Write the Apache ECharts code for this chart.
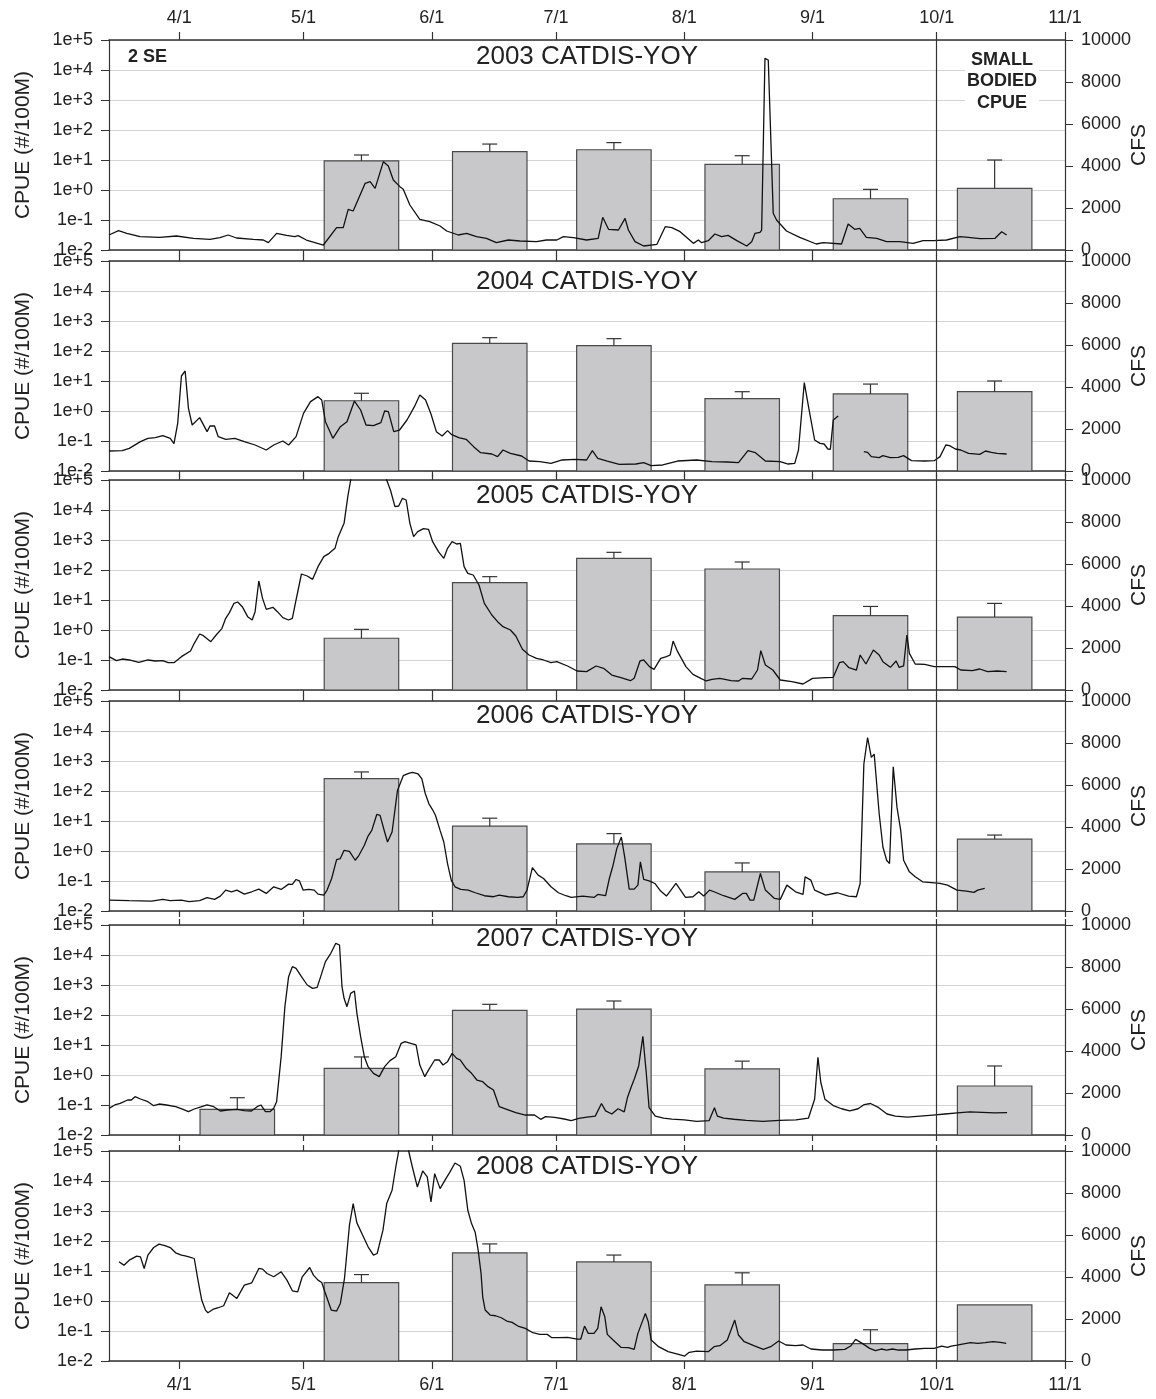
<!DOCTYPE html>
<html>
<head>
<meta charset="utf-8">
<script src="https://cdn.jsdelivr.net/npm/echarts@6/dist/echarts.min.js"></script>
<style>
html, body { margin: 0; padding: 0; background: #fff; }
#chart { width: 1156px; height: 1399px; }
</style>
</head>
<body>
<div id="chart"></div>
<script>
// x is counted in days from 3/15
var monthTicks = [17, 47, 78, 108, 139, 170, 200, 231];
var monthLabels = ['4/1', '5/1', '6/1', '7/1', '8/1', '9/1', '10/1', '11/1'];
var decades = [0.01, 0.1, 1, 10, 100, 1000, 10000, 100000];
var sampleDays = [31, 61, 92, 122, 153, 184, 214]; // mid-month samples
var years = ['2003', '2004', '2005', '2006', '2007', '2008'];

// CPUE means and top of error bar (mean + SE), null = no sample
var cpue2003 = [null, 9.3, 19, 22, 7.2, 0.51, 1.14];
var errTop2003 = [null, 14.7, 34, 38, 13.9, 1.05, 10];
var cpue2004 = [null, 2.2, 180, 151, 2.6, 3.7, 4.4];
var errTop2004 = [null, 3.9, 278, 258, 4.4, 7.9, 10];
var cpue2005 = [null, 0.53, 38, 245, 108, 3.0, 2.7];
var errTop2005 = [null, 1.05, 60, 388, 185, 6.1, 7.7];
var cpue2006 = [null, 260, 6.7, 1.73, 0.2, null, 2.5];
var errTop2006 = [null, 432, 12.4, 3.8, 0.4, null, 3.4];
var cpue2007 = [0.072, 1.67, 143, 158, 1.6, null, 0.43];
var errTop2007 = [0.175, 4.0, 227, 293, 2.9, null, 2.0];
var cpue2008 = [null, 4.1, 40, 20, 3.45, 0.038, 0.74];
var errTop2008 = [null, 7.6, 80, 34, 8.7, 0.11, null];

// river discharge (CFS), [day, cfs]
var flow2003 = [[0,714],[2.3,920],[4.3,794],[7.5,635],[12.3,603],[16.3,667],[20.4,556],[24.4,508],[26.8,587],[28.8,714],[30.8,571],[34.9,508],[37.3,476],[38.5,349],[40.5,794],[42.9,698],[44.9,635],[45.7,683],[47.7,476],[51.8,238],[55,1063],[56.6,1063],[57.8,1937],[59,1857],[61.9,3175],[63.1,3254],[64.3,2937],[66.3,4206],[67.5,4000],[68.7,3333],[70.3,3016],[71.1,2889],[72.7,2143],[75.1,1460],[77.5,1349],[80,1143],[81.6,905],[84.4,714],[86.4,794],[88.8,635],[91.2,556],[93.6,349],[96.5,476],[99.3,429],[103.3,397],[105.7,476],[108.2,476],[109.8,635],[112.2,587],[115.4,476],[118.2,556],[119.3,1556],[120.7,984],[123.1,952],[124.7,1508],[125.5,952],[127.1,397],[129.2,190],[132.4,270],[134.4,1111],[136,1063],[138,873],[141.2,317],[142.4,476],[143.2,349],[144.8,444],[146.4,762],[148,635],[149.6,698],[151.7,444],[154.1,190],[155.3,397],[156.1,794],[157.3,841],[157.7,952],[158.5,9127],[159.3,9048],[160.5,1746],[161.3,1429],[163.7,905],[166.9,603],[170.9,286],[172.6,349],[177,286],[178.6,1238],[180.2,984],[181.4,1032],[183,603],[185.5,556],[187.9,397],[191.1,397],[194.3,317],[196.7,444],[199.2,444],[202.4,476],[205.6,635],[207.6,603],[210.5,540],[214.1,556],[215.7,873],[216.9,714]];
var flow2004 = [[0,952],[3.2,968],[4.9,1079],[7.6,1397],[9.4,1556],[11.2,1587],[13,1683],[14.8,1556],[15.7,1300],[16.6,2270],[17.5,4524],[18.4,4762],[19.2,2984],[20.1,2190],[21.9,2540],[23.7,1873],[24.4,2143],[25.5,2143],[26.4,1635],[28.2,1508],[30.4,1556],[32.7,1397],[35.3,1238],[38,1000],[39.8,1238],[42,1429],[43.4,1238],[45.2,1635],[47,2746],[48.7,3302],[50.5,3540],[51.4,3381],[52.3,2349],[54.1,1556],[55.9,2111],[57.5,2349],[59.3,3333],[60.8,2905],[62.1,2190],[63.9,2159],[65.7,2302],[66.6,2857],[67.5,2825],[68.8,1873],[70.2,1952],[72,2429],[73.8,3063],[75.1,3619],[76.5,3381],[77.8,2714],[79.1,1873],[80.5,1667],[81.8,1921],[82.7,1746],[84.5,1587],[86.3,1508],[88.1,1159],[89.8,873],[92.5,810],[93.9,683],[95.2,1000],[97,841],[99.7,714],[101.5,476],[104.1,444],[106.8,365],[109.5,524],[112.6,556],[115.4,524],[116.8,968],[118.1,603],[120.4,476],[123.3,317],[127.3,333],[129.2,397],[131,254],[133.8,286],[137.4,476],[142,524],[145.7,444],[149.4,429],[152.1,397],[154.4,968],[156.2,873],[158.6,476],[162.2,444],[164.1,333],[165.7,365],[166.6,1000],[168,4206],[169.1,2984],[170.5,1476],[171.8,1317],[172.8,1286],[173.7,1048],[174.3,1032],[175,2429],[176.2,2619],[179,'-'],[182.4,921],[183.3,889],[184.2,683],[186.1,635],[187,730],[188.8,635],[190.7,651],[192,730],[193.9,492],[197.1,476],[199.4,492],[200.8,683],[202.2,1238],[203.1,1206],[204.5,1048],[205.8,1000],[207.7,841],[210.4,794],[211.8,952],[213.2,889],[214.6,841],[216.9,810]];
var flow2005 = [[0,1587],[1.8,1397],[3.2,1476],[4.9,1429],[7.2,1317],[9.4,1429],[11.2,1381],[13,1397],[14.3,1302],[15.7,1302],[17.5,1587],[19.7,1857],[20.6,2222],[21.9,2667],[22.8,2587],[24.6,2302],[25.9,2619],[27.3,2937],[28.2,3413],[29.1,3683],[30.2,4127],[31.1,4190],[32.2,3968],[33.5,3492],[34.6,3333],[35.3,3730],[36.2,5190],[37.1,4365],[38,3841],[39.6,3937],[40.7,3730],[42,3444],[43.4,3333],[44.3,3413],[45.2,4286],[46.5,5524],[47.9,5429],[49.2,5270],[50.5,5873],[51.9,6349],[53.2,6508],[54.6,6746],[55.4,7302],[56.8,7937],[57.7,9206],[58.4,10000],[60,11500],[63,12500],[66,11500],[67.1,10000],[68,9524],[69.1,8730],[70,8762],[70.9,9127],[71.8,9048],[72.7,7937],[73.6,7302],[74.6,7540],[76,7683],[77.2,7651],[78.2,7063],[79.6,6587],[80.9,6270],[81.8,6746],[82.9,7063],[84,6952],[84.9,6984],[85.8,5873],[86.7,5556],[88,5476],[89.4,5000],[90.7,4127],[92.5,3571],[93.9,3254],[95.2,3016],[97,2857],[98.3,2571],[99.9,1937],[101.5,1667],[103.3,1508],[105,1429],[106.8,1302],[108.2,1349],[110.8,1143],[113.1,905],[115.4,873],[117.7,1143],[119.5,1032],[121.5,714],[123.7,587],[126,444],[126.9,556],[128.3,1381],[129.2,1429],[130.6,1111],[131.7,984],[133.3,1508],[134.7,1587],[135.6,1667],[136.3,2333],[137.4,1825],[139.4,1111],[141.1,746],[143,556],[144.3,429],[145.7,508],[147.6,556],[150.3,444],[152.1,429],[153.1,556],[155.3,524],[156.7,952],[157.5,1873],[158.6,1190],[160.4,952],[162.2,476],[165,397],[167.7,286],[170,556],[173.2,587],[175,603],[176.5,1302],[177.4,1349],[178.8,1063],[180.6,952],[181.5,1667],[182.9,1238],[184.7,1905],[186.1,1667],[187,1349],[188.8,1079],[190.2,1381],[190.9,1079],[192,1143],[192.8,2619],[193.4,1746],[194.8,1238],[197.1,1222],[199.4,1111],[202.6,1111],[204.4,1111],[205.8,952],[208.6,921],[210.4,1000],[212.3,873],[214.6,905],[216.9,873]];
var flow2006 = [[0,521],[4.9,490],[10.3,474],[13,553],[14.8,490],[17.5,521],[19.3,442],[21.9,490],[23.7,632],[25.5,553],[26.9,711],[28.2,995],[29.6,916],[30.9,995],[32.7,806],[34.5,916],[36.2,1043],[38,837],[39.8,1153],[41.6,1027],[43.4,1280],[44.3,1264],[45.2,1501],[46,1438],[46.9,995],[48.3,1027],[49.6,995],[50.5,806],[51.9,758],[52.7,995],[53.8,1548],[55,2449],[55.9,2496],[56.8,2891],[58.1,2844],[59.5,2417],[60.4,2654],[61.7,3128],[62.6,3570],[63.5,3839],[64.7,4597],[65.5,4550],[66.6,3760],[67.3,3286],[68.4,3760],[69.7,5735],[71.1,6445],[72.4,6556],[73.3,6603],[74.7,6524],[75.6,6288],[76.4,5608],[77.3,5103],[78.2,4818],[78.9,4550],[80,3839],[80.9,3286],[81.8,2259],[82.7,1469],[83.6,1153],[85,1027],[86.8,995],[88.5,869],[90.7,727],[92.9,679],[94.3,758],[96.5,679],[98.8,648],[100.1,679],[101,995],[102.3,2070],[103.7,1706],[105,1548],[106.8,1153],[108.6,869],[110.4,727],[111.7,648],[114.5,711],[117.2,648],[118.1,790],[120,727],[120.9,1548],[121.8,2180],[122.7,2970],[123.8,3523],[124.6,2575],[125.7,1043],[126.9,1043],[127.8,1232],[128.4,2338],[129.2,1501],[130.5,1438],[131.9,1311],[133.3,948],[134.7,711],[137,1311],[139.3,648],[141.1,679],[142.5,916],[143.7,711],[145.1,995],[146.2,916],[148.5,727],[151.2,553],[153.1,837],[154,837],[154.9,521],[155.8,521],[157.4,1785],[158.6,995],[160.8,600],[162.2,553],[163.8,1232],[165.9,916],[167.7,790],[168.2,1627],[169.6,1469],[170.5,995],[173.2,758],[176,869],[178.7,711],[180.6,679],[181.5,1311],[182.4,7000],[183.3,8262],[184.2,7314],[184.9,7472],[186.1,4629],[187,3049],[187.9,2417],[188.6,2259],[189.5,6872],[190.4,4945],[191.3,3839],[192,2417],[193.4,1864],[194.8,1627],[196.6,1390],[199.4,1343],[200.8,1311],[202.6,1232],[204.9,995],[207.2,948],[209,885],[209.9,995],[211.6,1074]];
var flow2007 = [[0,1270],[1.4,1429],[2.7,1508],[4.5,1667],[5.4,1667],[6.3,1825],[7.6,1714],[9.4,1587],[10.8,1397],[12.1,1476],[13.9,1429],[16.1,1349],[17.9,1222],[19.2,1111],[20.6,1238],[22.4,1349],[23.7,1429],[25.3,1349],[26.9,1143],[28.6,1190],[30.9,1222],[32.7,1159],[34.4,1143],[35.8,1349],[36.7,1429],[37.8,1111],[38.9,1111],[39.8,1270],[40.5,1587],[41.6,3730],[42.5,6111],[43.4,7540],[44.3,8016],[45.2,7937],[46.5,7540],[47.9,7143],[49.2,6984],[50.3,7032],[51.4,7698],[52.3,8254],[53.6,8651],[54.8,9127],[55.7,9048],[56.3,7063],[56.8,6508],[57.5,6111],[58.4,6746],[59.3,6857],[59.9,5794],[60.8,4683],[61.7,3730],[62.6,3254],[63.9,2937],[65.3,2778],[66.6,3254],[67.9,3540],[69.3,3730],[70.6,4365],[71.5,4444],[72.9,4365],[74.2,4286],[75.1,3333],[76.3,2778],[77.3,3127],[78.7,3571],[79.8,3571],[80.7,3333],[81.8,3492],[82.9,3889],[84,3651],[84.9,3571],[86.3,3175],[87.6,2937],[88.9,2619],[90.3,2540],[91.6,2302],[92.9,2143],[94.3,1349],[96.1,1222],[98.3,1063],[100.6,952],[102.8,952],[104.3,746],[105.5,873],[107.7,841],[110,762],[111.7,683],[113.5,794],[115.5,850],[117.5,900],[119,1500],[120,1150],[121.5,1000],[123,1250],[124.5,1100],[125.3,1800],[126.2,2300],[127,2700],[128,3300],[129,4700],[129.8,3000],[130.5,1300],[132,900],[134,800],[136,760],[139,720],[142,650],[145,680],[146.3,1300],[147,900],[148.5,800],[151,750],[154,700],[158,650],[162,700],[166,720],[169,800],[170.5,1700],[171.3,3700],[172,2500],[173,1700],[175,1400],[177,1250],[179,1150],[181,1250],[182.5,1450],[184,1500],[186,1300],[188,1000],[190,900],[193,850],[196,900],[199,950],[202,1000],[205,1050],[208,1100],[211,1080],[214,1050],[217,1070]];
var flow2008 = [[2.4,4723],[3.6,4564],[4.9,4802],[6.7,4992],[7.6,4960],[8.5,4406],[9.4,5040],[10.8,5404],[12.1,5563],[13.5,5499],[14.8,5404],[16.1,5151],[17.5,5040],[18.4,5008],[19.3,4960],[19.7,5008],[20.6,4881],[21.5,3851],[22.4,2900],[23.3,2425],[23.9,2298],[25.1,2456],[26.4,2536],[27.7,2631],[29.1,3249],[30.9,2979],[32.7,3613],[34.5,3724],[36.2,4406],[37.1,4374],[38.2,4168],[39.8,4010],[41.6,4247],[43,3851],[44.3,3344],[45.6,3296],[46.7,4010],[48.5,4453],[49.4,4089],[50.5,3851],[51.4,3740],[52.3,3217],[53.7,2425],[55,2377],[55.9,2742],[56.9,3930],[58.1,6466],[59,7496],[59.9,6577],[61.3,5990],[62.6,5436],[63.9,5040],[64.8,5119],[66.2,6228],[67.1,7496],[68.4,8130],[69.3,9239],[70,10000],[71.2,11500],[72.4,10000],[73.3,9239],[74.5,8288],[75.8,9049],[76.9,8764],[77.8,7575],[78.7,8922],[80,8209],[81.4,8685],[82.3,8970],[83.6,9429],[84.9,9271],[85.8,8605],[86.7,7179],[87.6,6545],[88.5,6117],[89.2,5277],[89.9,4168],[90.3,3059],[90.9,2425],[92.1,2187],[93.4,2155],[94.8,2060],[96.1,1902],[97.4,1838],[98.8,1664],[100.6,1553],[102.4,1347],[104.1,1268],[105.9,1268],[107,1109],[108.6,1109],[110.8,1125],[113.1,1046],[114,1046],[114.9,1664],[115.8,1315],[117.2,1315],[118.1,1553],[118.9,2583],[119.8,2108],[120.4,1268],[121.8,998],[123.7,650],[125.5,634],[126.9,555],[127.8,1315],[128.7,1791],[129.6,2266],[130.3,1870],[131,998],[132.8,681],[135.1,444],[137.4,333],[139.1,238],[140.2,412],[142,475],[144.8,444],[146.2,681],[147.6,729],[149.4,998],[150.3,1474],[151.2,1949],[152.1,1236],[153.5,919],[155.8,729],[158.1,555],[159.9,681],[161.8,951],[163.6,761],[165.9,729],[167.7,761],[169.6,571],[172.3,523],[175.1,523],[177.8,555],[179.2,713],[180.4,1030],[182,840],[183.8,602],[185.2,491],[186.6,571],[187.9,523],[189.3,571],[190.7,523],[192.5,523],[194.8,571],[197.1,602],[199.4,602],[201.2,713],[202.6,650],[203.5,713],[204.9,761],[206.2,808],[208.2,872],[209.9,840],[211.7,872],[213.6,919],[215.4,888],[216.8,840]];

var cpueSets = [cpue2003, cpue2004, cpue2005, cpue2006, cpue2007, cpue2008];
var errSets = [errTop2003, errTop2004, errTop2005, errTop2006, errTop2007, errTop2008];
var flowSets = [flow2003, flow2004, flow2005, flow2006, flow2007, flow2008];

var FONT = 'Liberation Sans, Arial, sans-serif';
var gridTops = [40, 261, 480, 701, 925, 1151];
var titleOffsets = [17, 21, 16, 15, 14, 16];
var PLOT_H = 210;

function expLabel(v) {
    var e = Math.round(Math.log(v) / Math.LN10);
    return '1e' + (e < 0 ? '-' : '+') + Math.abs(e);
}
function monthLabel(v) {
    var i = monthTicks.indexOf(v);
    return i < 0 ? '' : monthLabels[i];
}

function renderBar(params, api) {
    var d = api.value(0), v = api.value(1), e = api.value(2);
    var tl = api.coord([d - 9, v]);
    var br = api.coord([d + 9, 0.01]);
    var kids = [{
        type: 'rect',
        shape: { x: tl[0], y: tl[1], width: br[0] - tl[0], height: br[1] - tl[1] },
        style: { fill: '#c8c8ca', stroke: '#4a4a4a', lineWidth: 1.2 }
    }];
    if (!isNaN(e) && e > v) {
        var top = api.coord([d, e]);
        kids.push({ type: 'line', shape: { x1: top[0], y1: tl[1], x2: top[0], y2: top[1] },
            style: { stroke: '#333', lineWidth: 1.2 } });
        kids.push({ type: 'line', shape: { x1: top[0] - 7.5, y1: top[1], x2: top[0] + 7.5, y2: top[1] },
            style: { stroke: '#333', lineWidth: 1.2 } });
    }
    return { type: 'group', children: kids };
}

var grids = [], xAxes = [], yAxes = [], series = [], graphics = [];

for (var i = 0; i < 6; i++) {
    grids.push({ left: 109, right: 91, top: gridTops[i], height: PLOT_H, containLabel: false, outerBoundsMode: 'none' });

    // bottom x axis
    xAxes.push({
        gridIndex: i, type: 'value', min: 0, max: 231, position: 'bottom',
        axisLine: { show: true, onZero: false, lineStyle: { color: '#333', width: 1.5 } },
        axisTick: { show: true, customValues: monthTicks, length: i == 5 ? 8 : 6, lineStyle: { color: '#333', width: 1.2 } },
        axisLabel: { show: i == 5, customValues: monthTicks, formatter: monthLabel, fontSize: 18, margin: 15, color: '#222', fontFamily: FONT },
        splitLine: { show: false }
    });
    // top x axis
    xAxes.push({
        gridIndex: i, type: 'value', min: 0, max: 231, position: 'top',
        axisLine: { show: true, onZero: false, lineStyle: { color: '#333', width: 1.5 } },
        axisTick: { show: true, customValues: monthTicks, length: i == 0 ? 8 : 6, lineStyle: { color: '#333', width: 1.2 } },
        axisLabel: { show: i == 0, customValues: monthTicks, formatter: monthLabel, fontSize: 18, margin: 13, color: '#222', fontFamily: FONT },
        splitLine: { show: false }
    });

    // left: CPUE log axis
    yAxes.push({
        gridIndex: i, type: 'log', logBase: 10, min: 0.01, max: 100000, splitNumber: 7, position: 'left',
        axisLine: { show: true, onZero: false, lineStyle: { color: '#333', width: 1.2 } },
        axisTick: { show: true, customValues: decades, length: 8, lineStyle: { color: '#333' } },
        minorTick: { show: false },
        axisLabel: { fontSize: 18, color: '#222', margin: 16, customValues: decades, formatter: expLabel, fontFamily: FONT },
        splitLine: { show: true, lineStyle: { color: '#d4d4d4', width: 1.2 } },
        name: 'CPUE (#/100M)', nameLocation: 'middle', nameGap: 75, nameRotate: 90, nameMoveOverlap: false,
        nameTextStyle: { fontSize: 21, color: '#222', fontFamily: FONT }
    });
    // right: flow axis
    yAxes.push({
        gridIndex: i, type: 'value', min: 0, max: 10000, interval: 2000, position: 'right',
        axisLine: { show: true, onZero: false, lineStyle: { color: '#333', width: 1.2 } },
        axisTick: { show: true, length: 8, lineStyle: { color: '#333' } },
        axisLabel: { fontSize: 18, color: '#222', margin: 16, fontFamily: FONT, showMinLabel: true, showMaxLabel: true,
            formatter: function (v) { return String(v); } },
        splitLine: { show: false },
        name: 'CFS', nameLocation: 'middle', nameGap: 64, nameRotate: 90, nameMoveOverlap: false,
        nameTextStyle: { fontSize: 21, color: '#222', fontFamily: FONT }
    });

    var cp = cpueSets[i], et = errSets[i], barData = [];
    for (var k = 0; k < sampleDays.length; k++) {
        if (cp[k] == null) continue;
        barData.push([sampleDays[k], cp[k], et[k] == null ? '-' : et[k]]);
    }
    series.push({
        type: 'custom', xAxisIndex: 2 * i, yAxisIndex: 2 * i, z: 2,
        renderItem: renderBar, data: barData, encode: { x: 0, y: 1 }, silent: true
    });
    series.push({
        type: 'line', xAxisIndex: 2 * i, yAxisIndex: 2 * i + 1, z: 3,
        data: flowSets[i], showSymbol: false, clip: true, connectNulls: false,
        lineStyle: { color: '#111', width: 1.3 },
        markLine: {
            silent: true, symbol: 'none', label: { show: false },
            lineStyle: { color: '#333', width: 1.2, type: 'solid' },
            data: [{ xAxis: 200 }]
        }
    });

    graphics.push({
        type: 'text', x: 587, y: gridTops[i] + titleOffsets[i], z: 10,
        style: { text: years[i] + ' CATDIS-YOY', font: '26px ' + FONT, fill: '#222', textAlign: 'center', textVerticalAlign: 'middle' }
    });
}

graphics.push({
    type: 'text', x: 128, y: 57, z: 10,
    style: { text: '2 SE', font: 'bold 18px ' + FONT, fill: '#222', textAlign: 'left', textVerticalAlign: 'middle' }
});
graphics.push({
    type: 'text', x: 1002, y: 49, z: 10,
    style: { text: 'SMALL\nBODIED\nCPUE', font: 'bold 18px ' + FONT, fill: '#222', textAlign: 'center', textVerticalAlign: 'top',
        lineHeight: 21.5, backgroundColor: '#fff', padding: [0, 2, 0, 2] }
});

var chart = echarts.init(document.getElementById('chart'), null, { renderer: 'canvas' });
chart.setOption({
    animation: false,
    backgroundColor: '#fff',
    grid: grids,
    xAxis: xAxes,
    yAxis: yAxes,
    series: series,
    graphic: graphics
});
</script>
</body>
</html>
